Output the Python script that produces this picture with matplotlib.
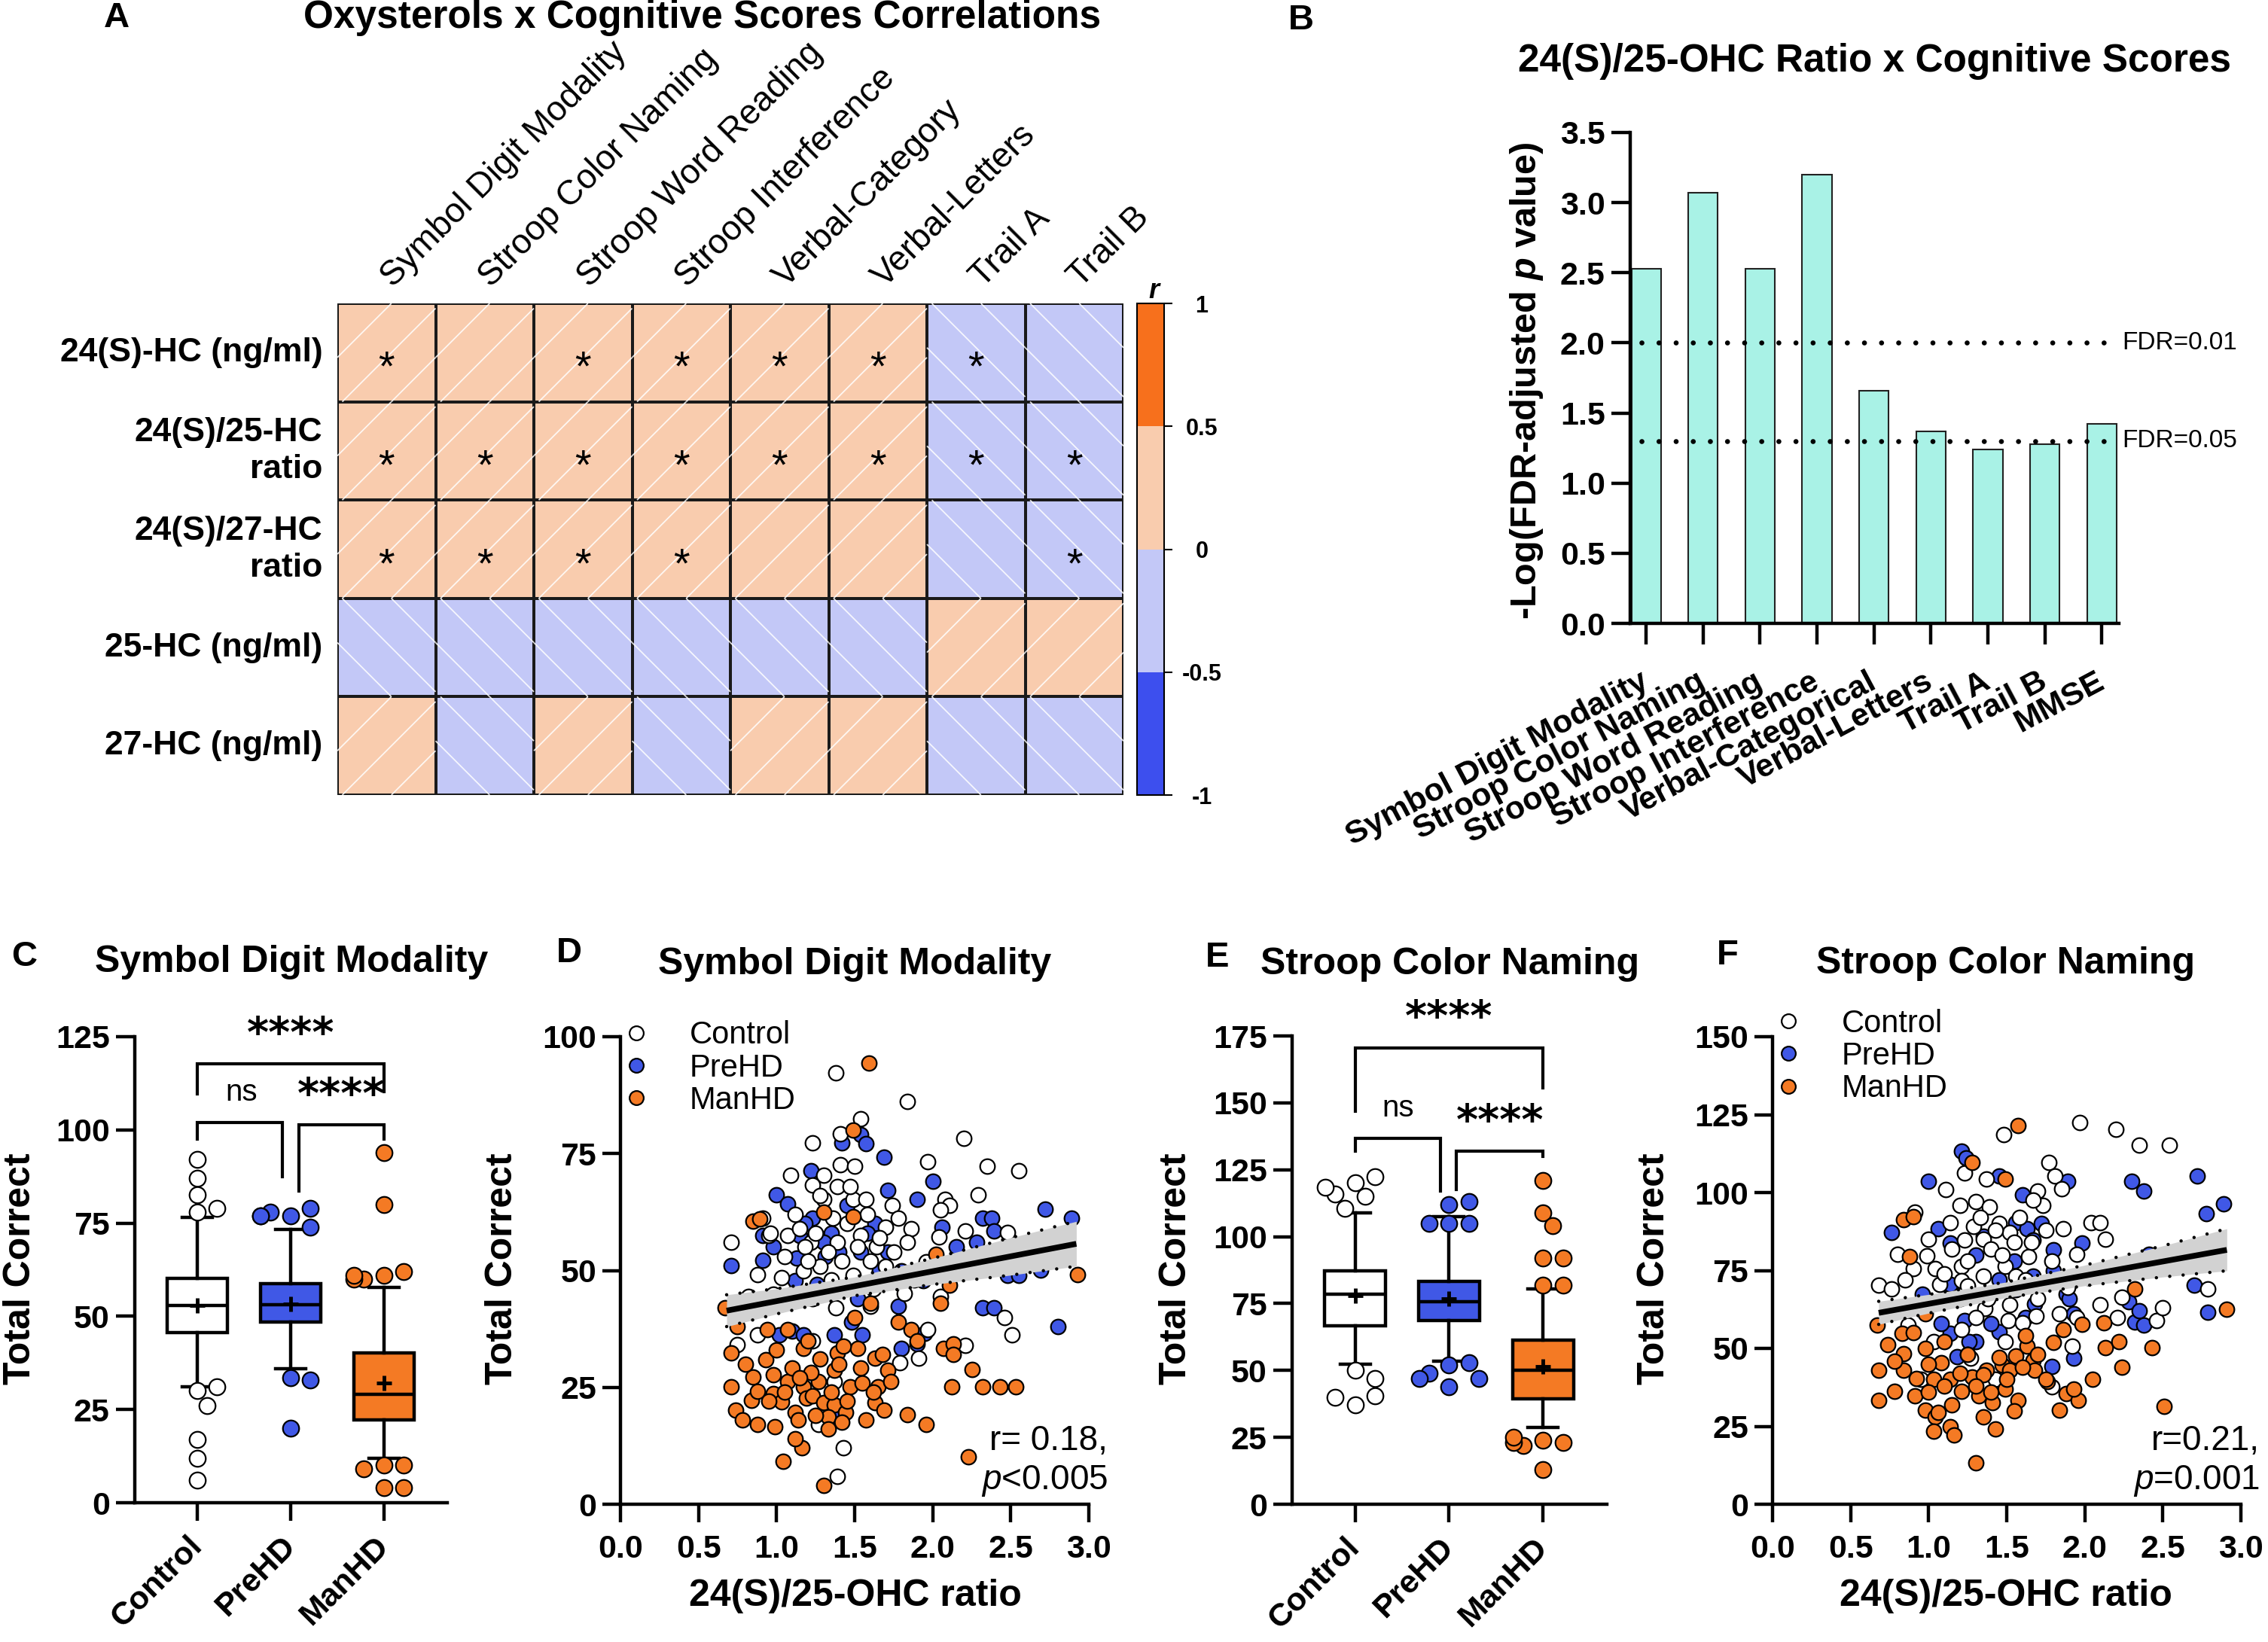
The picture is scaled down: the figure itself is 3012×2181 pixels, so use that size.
import numpy as np
import matplotlib
matplotlib.use("Agg")
import matplotlib.pyplot as plt
from matplotlib.colors import ListedColormap, BoundaryNorm
from matplotlib.collections import LineCollection
from matplotlib.lines import Line2D

plt.rcParams['font.family'] = ['Liberation Sans', 'DejaVu Sans']
plt.rcParams['mathtext.fontset'] = 'custom'
plt.rcParams['mathtext.rm'] = 'Liberation Sans'
plt.rcParams['mathtext.it'] = 'Liberation Sans:italic'
plt.rcParams['mathtext.bf'] = 'Liberation Sans:bold'
plt.rcParams['mathtext.bfit'] = 'Liberation Sans:italic:bold'
plt.rcParams['axes.linewidth'] = 3.2

# ---------------- data ----------------
# panel A: correlation matrix (sign / strength estimated from colours)
ox_rows = ["24(S)-HC (ng/ml)", "24(S)/25-HC\nratio", "24(S)/27-HC\nratio", "25-HC (ng/ml)", "27-HC (ng/ml)"]
cog_cols = ["Symbol Digit Modality", "Stroop Color Naming", "Stroop Word Reading", "Stroop Interference",
            "Verbal-Category", "Verbal-Letters", "Trail A", "Trail B"]
r_vals = [[0.25, 0.17, 0.24, 0.26, 0.22, 0.21, -0.22, -0.15],
          [0.28, 0.27, 0.26, 0.29, 0.22, 0.20, -0.21, -0.20],
          [0.21, 0.19, 0.20, 0.22, 0.13, 0.12, -0.13, -0.19],
          [-0.10, -0.12, -0.11, -0.13, -0.09, -0.08, 0.10, 0.11],
          [0.05, -0.03, 0.04, -0.02, 0.06, 0.05, -0.04, -0.05]]
r_sig = [[1, 0, 1, 1, 1, 1, 1, 0],
         [1, 1, 1, 1, 1, 1, 1, 1],
         [1, 1, 1, 1, 0, 0, 0, 1],
         [0, 0, 0, 0, 0, 0, 0, 0],
         [0, 0, 0, 0, 0, 0, 0, 0]]
r_bounds = [-1, -0.5, 0, 0.5, 1]
r_colors = ['#3d4fee', '#c3c8f7', '#f9ccae', '#f7701c']

# panel B
b_tests = ["Symbol Digit Modality", "Stroop Color Naming", "Stroop Word Reading", "Stroop Interference",
           "Verbal-Categorical", "Verbal-Letters", "Trail A", "Trail B", "MMSE"]
b_logp = [2.53, 3.07, 2.53, 3.20, 1.66, 1.37, 1.24, 1.28, 1.42]
fdr_levels = [0.01, 0.05]

# panels C / E: box plot summaries
groups = ["Control", "PreHD", "ManHD"]
sdm_q1 = [45.7, 48.5, 22.2]
sdm_med = [53.0, 53.2, 29.0]
sdm_q3 = [60.2, 58.7, 40.2]
sdm_mean = [53.0, 53.4, 32.2]
sdm_lo = [31.0, 36.0, 12.0]
sdm_hi = [76.6, 73.4, 57.8]
sdm_out = [[92, 87, 82.5, 78, 79, 30, 31, 26, 17, 12, 6],
           [77, 79, 78, 77, 77, 74, 33.5, 33, 20],
           [94, 80, 61, 62, 60, 60, 61, 10, 10, 9, 4, 4]]

scn_q1 = [66.6, 68.7, 39.3]
scn_med = [78.4, 75.8, 50.2]
scn_q3 = [87.2, 83.4, 61.2]
scn_mean = [77.9, 76.7, 51.6]
scn_lo = [52.3, 53.4, 28.6]
scn_hi = [108.9, 107.5, 80.5]
scn_out = [[120, 122.5, 115, 116, 118.5, 110.5, 50, 47, 37, 40.5, 40],
           [112, 113, 105, 105, 105, 52, 53, 44, 49, 47, 47],
           [121, 109, 104, 92, 92, 82, 82, 24, 23, 22, 23, 25, 13]]

# panel D: Symbol Digit Modality vs 24(S)/25-OHC ratio
d_ctrl_x = [1.38, 1.84, 1.54, 1.41, 2.20, 1.23, 2.35, 2.55, 1.09, 1.30, 1.41, 1.50, 1.97, 2.29, 1.23, 1.30,
            1.49, 1.57, 2.08, 2.11, 1.74, 1.39, 2.05, 2.21, 2.48, 0.91, 0.95, 0.71, 1.07, 1.15, 1.36, 1.54,
            1.70, 1.78, 1.86, 2.04, 1.22, 1.39, 1.64, 1.84, 0.88, 1.03, 1.17, 1.28, 1.49, 1.70, 1.96, 2.05,
            0.82, 0.98, 1.23, 1.38, 1.60, 1.82, 2.46, 2.51, 0.88, 0.75, 1.23, 1.79, 1.91, 1.97, 2.21, 1.37,
            1.27, 1.43, 1.39, 1.12, 1.18, 1.25, 1.33, 1.45, 1.52, 1.60, 1.66, 1.20, 1.35, 1.42, 1.58, 1.28,
            1.47, 1.62, 1.05, 0.96, 1.75, 1.88, 2.25, 2.60]
d_ctrl_y = [92.2, 86.2, 82.4, 79.3, 78.3, 77.3, 72.3, 71.3, 70.3, 70.3, 72.6, 72.3, 73.3, 66.2, 68.2, 65.2,
            65.2, 65.2, 65.2, 64.0, 64.0, 68.0, 63.0, 58.5, 58.2, 61.2, 57.5, 56.1, 57.5, 59.0, 61.2, 57.5,
            59.2, 61.2, 59.0, 57.2, 56.0, 56.0, 55.0, 56.0, 49.1, 48.4, 49.9, 50.9, 48.9, 50.9, 51.9, 44.4,
            44.4, 44.9, 43.9, 42.0, 42.3, 45.1, 40.0, 36.3, 36.3, 34.1, 35.0, 30.2, 31.3, 37.3, 34.0, 26.2,
            17.1, 12.1, 6.0, 62.0, 55.0, 58.0, 54.0, 60.0, 55.0, 52.0, 57.0, 52.0, 48.0, 52.0, 62.0, 66.0,
            68.0, 46.0, 53.0, 58.0, 54.0, 48.0, 50.0, 52.0]
d_pre_x = [1.54, 1.57, 1.42, 1.69, 1.22, 2.00, 1.00, 1.07, 1.71, 1.90, 2.32, 2.38, 2.72, 2.89, 1.23, 0.91,
           1.15, 1.35, 1.63, 2.06, 2.39, 2.28, 0.71, 0.91, 1.13, 1.31, 1.54, 1.71, 1.80, 1.94, 2.48, 2.69,
           1.12, 1.78, 2.32, 2.39, 2.80, 1.02, 1.10, 1.17, 1.37, 1.55, 1.48, 1.80, 1.90, 1.95, 1.39,
           1.18, 1.30, 1.45, 1.58, 1.26, 1.66, 1.52, 1.10, 0.98, 1.40, 2.15, 2.55]
d_pre_y = [79.1, 77.1, 77.3, 74.3, 71.3, 69.1, 66.2, 64.2, 67.2, 65.2, 61.2, 61.2, 63.2, 61.2, 61.2, 57.5,
           57.5, 58.0, 60.0, 59.2, 58.5, 56.1, 51.1, 52.1, 52.7, 52.9, 53.9, 53.9, 49.9, 47.9, 48.9, 50.1,
           47.9, 42.3, 42.0, 42.0, 38.0, 36.3, 37.0, 36.3, 36.3, 36.3, 39.0, 33.3, 34.3, 36.6, 19.9,
           60.0, 56.0, 64.0, 58.0, 47.0, 50.0, 44.0, 45.0, 55.0, 54.0, 55.0, 49.0]
d_man_x = [1.59, 1.49, 1.49, 1.30, 0.85, 0.89, 0.67, 2.02, 2.11, 2.93, 0.94, 1.07, 0.71, 0.93, 1.17, 1.39,
           1.52, 1.63, 1.71, 1.78, 1.86, 2.07, 2.13, 2.13, 2.25, 0.71, 0.85, 0.98, 1.07, 1.17, 1.27, 1.37,
           1.47, 1.65, 1.73, 2.12, 2.32, 2.43, 2.53, 0.74, 0.84, 0.98, 1.03, 1.12, 1.19, 1.23, 1.30, 1.37,
           1.44, 1.63, 1.69, 0.78, 0.88, 0.99, 1.14, 1.33, 1.42, 1.57, 1.84, 1.96, 1.33, 1.16, 1.04, 2.23,
           1.30, 0.88, 1.10, 1.43, 1.22, 1.54, 0.95, 1.05, 1.15, 1.25, 1.35, 1.45, 1.55, 1.62, 0.80, 1.00,
           1.20, 1.40, 1.68, 1.90, 1.12, 1.50, 1.60, 0.75, 2.05, 1.28]
d_man_y = [94.3, 80.1, 61.5, 62.5, 60.5, 61.0, 42.0, 53.4, 46.9, 49.1, 37.3, 37.3, 32.3, 30.9, 33.3, 32.3,
           33.3, 31.3, 28.7, 39.0, 37.3, 33.3, 34.3, 32.0, 28.9, 25.2, 27.2, 27.7, 26.2, 25.2, 26.2, 28.7,
           25.2, 25.2, 26.2, 25.2, 25.2, 25.2, 25.2, 20.2, 22.2, 23.7, 21.9, 19.7, 22.7, 23.2, 21.7, 21.2,
           19.7, 21.7, 20.2, 18.1, 17.1, 16.6, 18.1, 18.6, 17.6, 18.1, 19.2, 17.1, 16.1, 12.1, 9.1, 10.1,
           4.0, 24.2, 29.2, 33.8, 28.2, 29.2, 22.0, 24.0, 27.0, 19.0, 24.0, 22.0, 26.0, 24.0, 30.0, 33.0,
           35.0, 30.0, 32.0, 35.0, 14.0, 40.0, 43.0, 38.0, 43.0, 31.0]
d_fit_x = [0.68, 2.92]
d_fit_y = [41.4, 55.7]
d_ci_x = [0.68, 1.0, 1.5, 2.0, 2.5, 2.92]
d_ci_lo = [38.0, 40.7, 44.6, 47.0, 49.0, 50.9]
d_ci_hi = [44.8, 46.1, 48.6, 52.6, 57.0, 60.5]

# panel F: Stroop Color Naming vs 24(S)/25-OHC ratio
f_ctrl_x = [1.97, 2.20, 2.35, 2.54, 1.48, 1.23, 1.37, 1.11, 1.77, 1.81, 1.85, 1.70, 1.73, 0.91, 1.30, 1.39,
            2.04, 2.10, 2.13, 1.86, 1.14, 1.29, 1.45, 1.52, 1.23, 1.35, 0.80, 0.99, 1.95, 1.79, 0.90, 1.04,
            1.21, 1.49, 1.64, 0.68, 0.76, 1.07, 1.21, 1.35, 1.56, 1.75, 1.89, 2.24, 2.79, 0.87, 1.36, 1.51,
            1.69, 1.84, 2.21, 2.46, 2.50, 1.03, 1.21, 1.49, 1.92, 1.60, 1.27, 0.95, 1.43, 1.79, 1.67, 2.02,
            1.15, 1.25, 1.33, 1.40, 1.47, 1.55, 1.62, 1.70, 1.25, 1.38, 1.10, 1.58, 1.43, 1.20, 1.66, 1.75,
            1.00, 0.85, 1.95, 2.10, 1.52, 1.30]
f_ctrl_y = [122.5, 120.2, 115.2, 115.2, 118.7, 106.3, 104.3, 100.9, 109.6, 105.4, 101.3, 100.6, 96.0, 93.8,
            97.2, 95.3, 90.3, 90.3, 85.1, 88.5, 90.3, 89.2, 90.0, 87.3, 84.7, 85.1, 80.1, 79.7, 80.1, 77.9,
            75.6, 75.6, 76.4, 76.4, 79.4, 70.3, 69.1, 70.6, 71.8, 73.3, 73.3, 71.1, 69.6, 66.5, 69.1, 57.5,
            62.8, 59.0, 60.5, 61.2, 60.0, 59.0, 63.1, 52.2, 56.0, 52.2, 50.7, 58.2, 46.9, 40.1, 40.1, 37.8,
            97.5, 72.6, 82.0, 78.0, 92.0, 82.0, 80.0, 84.0, 72.0, 66.0, 70.0, 66.0, 74.0, 92.0, 88.0, 96.0,
            84.0, 88.0, 85.0, 72.0, 60.0, 64.0, 64.0, 60.0]
f_pre_x = [1.21, 1.24, 1.00, 1.45, 1.60, 1.89, 2.30, 2.38, 2.72, 2.89, 2.78, 0.76, 1.06, 1.56, 1.63, 1.72,
           1.67, 1.14, 1.98, 2.41, 1.80, 0.96, 1.14, 1.56, 1.67, 1.88, 2.70, 2.79, 2.32, 2.38, 1.93, 1.68,
           1.14, 1.23, 1.30, 1.45, 1.26, 1.18, 1.93, 1.79, 2.28, 1.30, 1.45, 1.55, 1.35, 1.20, 1.62, 1.80,
           1.08, 1.40, 1.25, 1.90, 2.35]
f_pre_y = [113.4, 111.1, 103.6, 105.4, 99.3, 103.6, 103.6, 100.6, 105.4, 96.3, 93.3, 87.3, 88.5, 90.3, 88.5,
           90.0, 84.7, 83.9, 83.9, 80.1, 81.7, 67.3, 70.6, 68.8, 73.3, 67.3, 70.3, 61.5, 58.5, 57.5, 61.2,
           64.3, 54.9, 59.0, 52.2, 55.2, 52.2, 47.3, 46.9, 44.2, 65.0, 80.0, 72.0, 78.0, 86.0, 66.0, 60.0,
           75.0, 58.0, 58.0, 48.0, 66.0, 62.0]
f_man_x = [1.57, 1.28, 1.49, 0.84, 0.90, 0.88, 2.32, 2.91, 0.67, 0.74, 0.98, 0.83, 0.98, 1.10, 1.08, 0.84,
           0.84, 0.92, 1.03, 1.14, 1.28, 1.37, 1.47, 1.56, 1.67, 1.63, 1.68, 1.76, 1.86, 1.98, 2.12, 2.13,
           2.22, 2.24, 2.43, 1.88, 1.96, 1.84, 2.51, 0.68, 0.68, 0.78, 0.91, 0.98, 1.04, 1.03, 1.14, 1.16,
           1.21, 1.32, 1.41, 1.43, 1.57, 1.49, 1.30, 1.06, 1.35, 1.52, 1.93, 1.00, 1.10, 1.20, 1.30, 1.40,
           1.50, 1.60, 1.70, 1.80, 0.90, 1.15, 1.35, 1.25, 1.45, 1.55, 1.00, 1.75, 2.05, 0.78, 1.62]
f_man_y = [121.4, 109.6, 104.3, 91.2, 92.2, 79.4, 69.1, 62.5, 57.5, 51.1, 61.2, 54.9, 49.9, 52.2, 45.4, 48.4,
           43.1, 40.4, 40.1, 40.1, 40.8, 43.1, 44.6, 47.6, 46.1, 50.7, 43.1, 39.3, 56.0, 57.8, 58.2, 50.2,
           52.2, 43.9, 50.2, 35.5, 33.3, 30.2, 31.3, 43.1, 33.3, 36.3, 34.8, 30.2, 28.0, 23.4, 25.0, 22.2,
           36.3, 34.8, 32.5, 24.2, 33.3, 37.0, 13.2, 29.5, 41.6, 43.1, 37.0, 45.0, 38.0, 42.0, 38.0, 36.0,
           40.0, 44.0, 48.0, 52.0, 55.0, 32.0, 28.0, 48.0, 47.0, 30.0, 36.0, 40.0, 40.0, 46.0, 54.0]
f_fit_x = [0.68, 2.91]
f_fit_y = [61.4, 81.6]
f_ci_x = [0.68, 1.0, 1.5, 2.0, 2.5, 2.91]
f_ci_lo = [57.7, 61.3, 66.3, 70.1, 72.9, 74.9]
f_ci_hi = [65.1, 67.3, 71.3, 76.7, 82.9, 88.4]

# ---------------- layout helpers (pixel positions on the 3012x2181 canvas) ----------------
W, H = 3012, 2181
fig = plt.figure(figsize=(W / 100, H / 100), dpi=100)


def px_axes(x0, y0, x1, y1):
    return fig.add_axes([x0 / W, 1 - y1 / H, (x1 - x0) / W, (y1 - y0) / H])


def ftext(x, y, s, **kw):
    kw.setdefault('ha', 'center')
    kw.setdefault('va', 'center')
    return fig.text(x / W, 1 - y / H, s, **kw)


BLUE = '#4058e6'
ORANGE = '#f47a24'
grp_colors = ['white', BLUE, ORANGE]

# ---------------- A: heatmap ----------------
ax_a = px_axes(448, 403, 1492, 1056)
cmap = ListedColormap(r_colors)
norm = BoundaryNorm(r_bounds, cmap.N)
R = np.array(r_vals)
mesh = ax_a.pcolormesh(np.arange(R.shape[1] + 1), np.arange(R.shape[0] + 1), R, cmap=cmap, norm=norm,
                       edgecolors='#1a1a1a', linewidth=1.6)
ax_a.set_xlim(0, R.shape[1])
ax_a.set_ylim(R.shape[0], 0)
ax_a.set_axis_off()

# white diagonal hatch, "/" for positive and "\" for negative cells
segs = []
for i in range(R.shape[0]):
    for j in range(R.shape[1]):
        for t in (-0.45, 0.05, 0.55):
            u0, u1 = max(0.0, t), min(1.0, 1.0 + t)
            if u1 - u0 < 0.04:
                continue
            if R[i, j] > 0:
                segs.append([(j + u0, i + 1 - (u0 - t)), (j + u1, i + 1 - (u1 - t))])
            else:
                segs.append([(j + u0, i + (u0 - t)), (j + u1, i + (u1 - t))])
ax_a.add_collection(LineCollection(segs, colors='white', linewidths=1.3, alpha=0.85, zorder=3))

for i in range(R.shape[0]):
    for j in range(R.shape[1]):
        if r_sig[i][j]:
            ax_a.text(j + 0.5, i + 0.78, '*', ha='center', va='baseline', fontsize=40, zorder=4)

for i, lab in enumerate(ox_rows):
    ax_a.text(-0.15, i + 0.5, lab, ha='right', va='center', fontsize=32, fontweight='bold',
              linespacing=1.25, clip_on=False)
for j, lab in enumerate(cog_cols):
    ax_a.text(j + 0.62, -0.1, lab, rotation=45, rotation_mode='anchor', ha='left', va='bottom',
              fontsize=33, clip_on=False)

cax = px_axes(1510, 403, 1546, 1056)
cb = fig.colorbar(mesh, cax=cax, ticks=r_bounds)
cb.outline.set_linewidth(1.5)
cax.set_yticklabels(['-1', '-0.5', '0', '0.5', '1'], fontsize=22, fontweight='bold', ha='center')
cax.tick_params(length=8, width=1.5, pad=28)
ftext(1532, 386, 'r', fontsize=26, fontweight='bold', style='italic')

ftext(155, 24, 'A', fontsize=34, fontweight='bold')
ftext(933, 24, 'Oxysterols x Cognitive Scores Correlations', fontsize=37, fontweight='bold')

# ---------------- B: bar chart ----------------
ax_b = px_axes(2165, 176, 2814, 828)
xb = np.arange(len(b_tests))
ax_b.bar(xb, b_logp, width=0.52, color='#a9f2e6', edgecolor='#222222', linewidth=1.5)
fdr_y = -np.log10(fdr_levels)
for yv, lev in zip(fdr_y, fdr_levels):
    ax_b.plot([-0.08, 8.12], [yv, yv], color='k', lw=4.8, ls=(0, (0.01, 3.4)), dash_capstyle='round')
    ax_b.text(8.36, yv, f'FDR={lev}', ha='left', va='center', fontsize=24, clip_on=False)
ax_b.set_xlim(-0.28, 8.30)
ax_b.set_ylim(0, 3.5)
ax_b.spines[['top', 'right']].set_visible(False)
yt = np.arange(0, 3.51, 0.5)
ax_b.set_yticks(yt, [f'{v:.1f}' for v in yt], fontsize=31, fontweight='bold')
ax_b.set_xticks(xb, b_tests, rotation=28, rotation_mode='anchor', ha='right', va='center',
                fontsize=31, fontweight='bold')
ax_b.tick_params(axis='y', length=18, width=3.2, pad=6)
ax_b.tick_params(axis='x', length=20, width=3.2, pad=34)
ftext(2028, 506, r'-Log(FDR-adjusted $\mathbfit{p}$ value)', rotation=90, fontsize=35, fontweight='bold')
ftext(1728, 27, 'B', fontsize=34, fontweight='bold')
ftext(2490, 81, '24(S)/25-OHC Ratio x Cognitive Scores', fontsize=37, fontweight='bold')


# ---------------- C / E: box plots ----------------
def swarm(vals, ystep, xstep):
    placed, offs = [], []
    for v in vals:
        for k in (0, 1, -1, 2, -2, 3, -3):
            o = k * 0.6 * xstep
            if all(((v - pv) / ystep) ** 2 + ((o - po) / xstep) ** 2 >= 1 for pv, po in placed):
                break
        placed.append((v, o))
        offs.append(o)
    return offs


def box_panel(ax, q1, med, q3, mean, lo, hi, outl, ymax, brackets, stars):
    stats = [dict(q1=q1[k], med=med[k], q3=q3[k], mean=mean[k], whislo=lo[k], whishi=hi[k],
                  fliers=[], label=groups[k]) for k in range(3)]
    art = ax.bxp(stats, positions=[0, 1, 2], widths=0.65, patch_artist=True, showmeans=True,
                 showfliers=False, capwidths=0.32,
                 boxprops=dict(linewidth=3.2, edgecolor='k'),
                 whiskerprops=dict(linewidth=3.2), capprops=dict(linewidth=3.2),
                 medianprops=dict(color='k', linewidth=3.2),
                 meanprops=dict(marker='+', markeredgecolor='k', markersize=14, markeredgewidth=3.5))
    for patch, c in zip(art['boxes'], grp_colors):
        patch.set_facecolor(c)
    ax.set_xlim(-0.67, 2.68)
    ax.set_ylim(0, ymax)
    bb = ax.get_position()
    ystep = 22 / (bb.height * H / ymax)
    xstep = 22 / (bb.width * W / 3.35)
    for k in range(3):
        offs = swarm(outl[k], ystep, xstep)
        ax.plot(np.array(offs) + k, outl[k], 'o', ms=15.5, mfc=grp_colors[k], mec='k', mew=1.6,
                zorder=4, clip_on=False)
    for bx, by in brackets:
        ax.plot(bx, by, color='k', lw=3, clip_on=False, solid_joinstyle='miter')
    for sx, sy, s in stars:
        if s == 'ns':
            ax.text(sx, sy, s, ha='center', va='center', fontsize=29, clip_on=False)
        else:
            ax.text(sx, sy, s, ha='center', va='center', fontsize=40, fontweight='bold',
                    family='DejaVu Sans', clip_on=False)
    ax.spines[['top', 'right']].set_visible(False)
    yt = np.arange(0, ymax + 1, 25)
    ax.set_yticks(yt, [str(v) for v in yt], fontsize=31, fontweight='bold')
    ax.set_xticks([0, 1, 2], groups, rotation=45, rotation_mode='anchor', ha='right', va='center',
                  fontsize=31, fontweight='bold')
    ax.tick_params(axis='y', length=18, width=3.2, pad=6)
    ax.tick_params(axis='x', length=17, width=3.2, pad=20)


ax_c = px_axes(179, 1377, 594, 1996)
box_panel(ax_c, sdm_q1, sdm_med, sdm_q3, sdm_mean, sdm_lo, sdm_hi, sdm_out, 125,
          [([0, 0, 2, 2], [109.6, 117.8, 117.8, 110.2]),
           ([0, 0, 0.91, 0.91], [97.6, 102, 102, 87.5]),
           ([1.09, 1.09, 2, 2], [83.7, 101.4, 101.4, 97.6])],
          [(1, 125.5, '****'), (0.47, 110, 'ns'), (1.54, 109, '****')])
ftext(32, 1271, 'C', fontsize=34, fontweight='bold')
ftext(387, 1278, 'Symbol Digit Modality', fontsize=36, fontweight='bold')
ftext(27, 1685, 'Total Correct', rotation=90, fontsize=36, fontweight='bold')

ax_e = px_axes(1716, 1376, 2134, 1998)
box_panel(ax_e, scn_q1, scn_med, scn_q3, scn_mean, scn_lo, scn_hi, scn_out, 175,
          [([0, 0, 2, 2], [147, 170.4, 170.4, 155.6]),
           ([0, 0, 0.91, 0.91], [132, 136.6, 136.6, 117]),
           ([1.08, 1.08, 2, 2], [117.5, 132, 132, 130])],
          [(1, 181.5, '****'), (0.46, 148, 'ns'), (1.54, 142.7, '****')])
ftext(1617, 1272, 'E', fontsize=34, fontweight='bold')
ftext(1926, 1281, 'Stroop Color Naming', fontsize=36, fontweight='bold')
ftext(1562, 1685, 'Total Correct', rotation=90, fontsize=36, fontweight='bold')


# ---------------- D / F: scatter with regression ----------------
def scatter_panel(ax, pts, fit_x, fit_y, ci_x, ci_lo, ci_hi, ymax, stat_lines, leg_y):
    (cx, cy), (px, py), (mx, my) = pts
    ax.scatter(px, py, s=200, c=BLUE, edgecolors='k', linewidths=1.6, zorder=2)
    ax.scatter(cx, cy, s=200, c='white', edgecolors='k', linewidths=1.6, zorder=2)
    ax.scatter(mx, my, s=200, c=ORANGE, edgecolors='k', linewidths=1.6, zorder=2)
    ax.fill_between(ci_x, ci_lo, ci_hi, color='#d2d2d2', lw=0, zorder=3)
    for e in (ci_lo, ci_hi):
        ax.plot(ci_x, e, color='k', lw=3.2, ls=(0, (0.01, 4.0)), dash_capstyle='round', zorder=4)
    ax.plot(fit_x, fit_y, color='k', lw=5.5, zorder=5, solid_capstyle='butt')
    ax.set_xlim(0, 3)
    ax.set_ylim(0, ymax)
    ax.spines[['top', 'right']].set_visible(False)
    xt = np.arange(0, 3.01, 0.5)
    ax.set_xticks(xt, [f'{v:.1f}' for v in xt], fontsize=31, fontweight='bold')
    yt = np.arange(0, ymax + 1, 25)
    ax.set_yticks(yt, [str(v) for v in yt], fontsize=31, fontweight='bold')
    ax.tick_params(axis='both', length=17, width=3.2)
    ax.tick_params(axis='y', pad=6)
    ax.tick_params(axis='x', pad=12)
    handles = [Line2D([], [], ls='', marker='o', ms=13.5, mfc=c, mec='k', mew=1.6) for c in grp_colors]
    ax.legend(handles, groups, loc='upper left', bbox_to_anchor=(0.0, leg_y), frameon=False,
              fontsize=30, handlelength=1.0, handletextpad=1.2, labelspacing=0.08, borderpad=0,
              borderaxespad=0)
    ax.text(1.04, 0.135, stat_lines[0], transform=ax.transAxes, ha='right', va='center', fontsize=33)
    ax.text(1.04, 0.05, stat_lines[1], transform=ax.transAxes, ha='right', va='center', fontsize=33)


ax_d = px_axes(824, 1377, 1446, 1998)
scatter_panel(ax_d, [(d_ctrl_x, d_ctrl_y), (d_pre_x, d_pre_y), (d_man_x, d_man_y)],
              d_fit_x, d_fit_y, d_ci_x, d_ci_lo, d_ci_hi, 100,
              ['r= 0.18,', r'$\mathit{p}$<0.005'], 1.035)
ftext(756, 1266, 'D', fontsize=34, fontweight='bold')
ftext(1135, 1281, 'Symbol Digit Modality', fontsize=36, fontweight='bold')
ftext(667, 1685, 'Total Correct', rotation=90, fontsize=36, fontweight='bold')
ftext(1136, 2120, '24(S)/25-OHC ratio', fontsize=36, fontweight='bold')

ax_f = px_axes(2354, 1377, 2976, 1998)
scatter_panel(ax_f, [(f_ctrl_x, f_ctrl_y), (f_pre_x, f_pre_y), (f_man_x, f_man_y)],
              f_fit_x, f_fit_y, f_ci_x, f_ci_lo, f_ci_hi, 150,
              ['r=0.21,', r'$\mathit{p}$=0.001'], 1.06)
ftext(2294, 1269, 'F', fontsize=34, fontweight='bold')
ftext(2664, 1280, 'Stroop Color Naming', fontsize=36, fontweight='bold')
ftext(2197, 1685, 'Total Correct', rotation=90, fontsize=36, fontweight='bold')
ftext(2664, 2120, '24(S)/25-OHC ratio', fontsize=36, fontweight='bold')

fig.savefig('out.png', dpi=100)
